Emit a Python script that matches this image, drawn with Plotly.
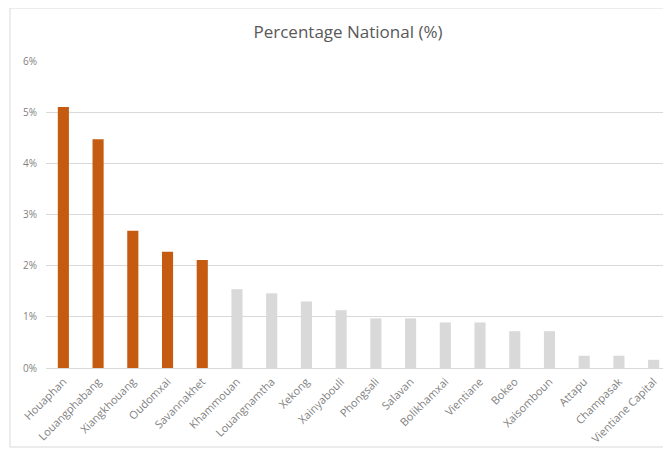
import plotly.graph_objects as go

provinces = ["Houaphan", "Louangphabang", "Xiangkhouang", "Oudomxai", "Savannakhet",
             "Khammouan", "Louangnamtha", "Xekong", "Xainyabouli", "Phongsali", "Salavan",
             "Bolikhamxai", "Vientiane", "Bokeo", "Xaisomboun", "Attapu", "Champasak",
             "Vientiane Capital"]
pct_national = [5.10, 4.47, 2.68, 2.27, 2.11, 1.54, 1.46, 1.30, 1.13, 0.97, 0.97,
                0.89, 0.89, 0.72, 0.72, 0.24, 0.24, 0.16]
highlight_count = 5
tick_vals = [0, 1, 2, 3, 4, 5, 6]
tick_text = ["0%", "1%", "2%", "3%", "4%", "5%", "6%"]

colors = ["#C55A11" if i < highlight_count else "#D9D9D9" for i in range(len(provinces))]

W, H = 663, 447
L, T, B = 38, 53, 87
plot_w = W - L
plot_h = H - T - B

fig = go.Figure(go.Bar(x=provinces, y=pct_national, marker_color=colors,
                       marker_line_width=0, width=0.32))

fig.update_layout(
    width=W, height=H,
    margin=dict(l=L, r=0, t=T, b=B, pad=0),
    paper_bgcolor="white", plot_bgcolor="white",
    font=dict(family="Open Sans, Liberation Sans, sans-serif", color="#595959"),
    title=dict(text="Percentage National (%)", x=340 / W, xref="container", xanchor="center",
               y=1 - 24 / H, yref="container", yanchor="middle",
               font=dict(size=17, color="#595959")),
    showlegend=False,
)
fig.update_xaxes(tickangle=-45, tickfont=dict(size=11, color="#7F7F7F"),
                 showline=True, linecolor="#D9D9D9", linewidth=1, ticks="",
                 showgrid=False, ticklabelstandoff=2)
fig.update_yaxes(range=[0, 6], tickvals=tick_vals, ticktext=tick_text,
                 tickfont=dict(size=10, color="#7F7F7F"),
                 showgrid=True, gridcolor="#D9D9D9", gridwidth=1,
                 zeroline=False, showline=False, ticks="", ticklabelstandoff=8)
fig.add_shape(type="rect", xref="paper", yref="paper",
              x0=(2 - L) / plot_w, x1=1.05, y0=-(439 - (T + plot_h)) / plot_h, y1=(T + plot_h) / plot_h,
              line=dict(color="#D9D9D9", width=1), fillcolor="rgba(0,0,0,0)", layer="below")

fig.write_html("out.html")
